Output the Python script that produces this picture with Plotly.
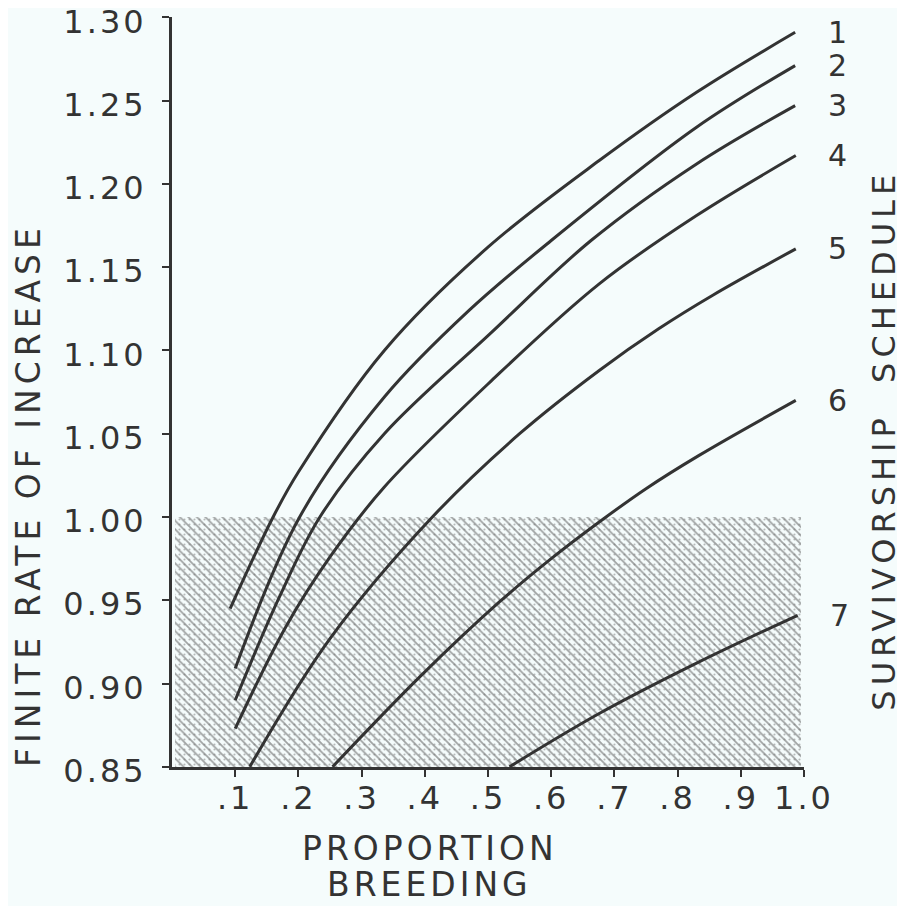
import plotly.graph_objects as go

# ---- data ----
x_ticks = [0.1, 0.2, 0.3, 0.4, 0.5, 0.6, 0.7, 0.8, 0.9, 1.0]
x_ticktext = [".1", ".2", ".3", ".4", ".5", ".6", ".7", ".8", ".9", "1.0"]
y_ticks = [0.85, 0.90, 0.95, 1.00, 1.05, 1.10, 1.15, 1.20, 1.25, 1.30]
y_ticktext = ["0.85", "0.90", "0.95", "1.00", "1.05", "1.10", "1.15", "1.20", "1.25", "1.30"]

curve_labels = ["1", "2", "3", "4", "5", "6", "7"]

s1_x = [0.092, 0.16, 0.20, 0.336, 0.50, 0.676, 0.83, 0.986]
s1_y = [0.945, 1.000, 1.027, 1.100, 1.162, 1.214, 1.255, 1.291]

s2_x = [0.10, 0.202, 0.336, 0.47, 0.60, 0.83, 0.986]
s2_y = [0.909, 1.000, 1.072, 1.124, 1.166, 1.234, 1.271]

s3_x = [0.10, 0.17, 0.234, 0.336, 0.506, 0.663, 0.83, 0.986]
s3_y = [0.890, 0.952, 1.000, 1.050, 1.111, 1.166, 1.212, 1.247]

s4_x = [0.10, 0.18, 0.25, 0.336, 0.506, 0.676, 0.83, 0.987]
s4_y = [0.873, 0.934, 0.976, 1.018, 1.082, 1.140, 1.181, 1.217]

s5_x = [0.123, 0.25, 0.412, 0.55, 0.676, 0.77, 0.855, 0.987]
s5_y = [0.850, 0.927, 1.000, 1.050, 1.088, 1.113, 1.133, 1.161]

s6_x = [0.254, 0.392, 0.518, 0.60, 0.676, 0.75, 0.834, 0.987]
s6_y = [0.850, 0.904, 0.949, 0.975, 0.997, 1.017, 1.037, 1.070]

s7_x = [0.534, 0.676, 0.834, 0.990]
s7_y = [0.850, 0.882, 0.913, 0.941]

series_x = [s1_x, s2_x, s3_x, s4_x, s5_x, s6_x, s7_x]
series_y = [s1_y, s2_y, s3_y, s4_y, s5_y, s6_y, s7_y]

# shaded region: rate below replacement (1.00)
shade_top = 1.00
shade_floor = 0.85
shade_x0 = 0.005
shade_x1 = 0.995

# ---- styling ----
BG = "#f5fcfc"
INK = "#333333"
FONT = "DejaVu Sans"


def spaced(t, px):
    return '<span style="letter-spacing:%dpx">%s</span>' % (px, t)


fig = go.Figure()

shade_center = (shade_x0 + shade_x1) / 2
shade_width = shade_x1 - shade_x0
fig.add_trace(go.Bar(
    x=[shade_center], y=[shade_top - shade_floor], base=[shade_floor],
    width=[shade_width],
    marker=dict(color=BG, line=dict(width=0),
                pattern=dict(shape="\\", fgcolor="#4a4a4a", bgcolor=BG,
                             size=6, solidity=0.3)),
    hoverinfo="skip",
))
fig.add_trace(go.Bar(
    x=[shade_center], y=[shade_top - shade_floor], base=[shade_floor],
    width=[shade_width],
    marker=dict(color="rgba(0,0,0,0)", line=dict(width=0),
                pattern=dict(shape=".", fgcolor="#777777",
                             bgcolor="rgba(0,0,0,0)", size=5, solidity=0.15)),
    hoverinfo="skip",
))

for sx, sy, lab in zip(series_x, series_y, curve_labels):
    fig.add_trace(go.Scatter(
        x=sx, y=sy, mode="lines",
        line=dict(color=INK, width=3, shape="spline", smoothing=1.0),
        name=lab, hoverinfo="skip",
    ))
    fig.add_annotation(
        x=sx[-1], y=sy[-1], xref="x", yref="y", text=lab, showarrow=False,
        xshift=42, font=dict(family=FONT, size=30, color=INK),
    )

axis_font = dict(family=FONT, size=32, color=INK)

# the page body adds an 8px offset, so the figure is 8px smaller and margins shifted
fig.update_layout(
    width=897, height=898,
    margin=dict(l=164, r=101, t=9, b=139, autoexpand=False),
    paper_bgcolor=BG, plot_bgcolor=BG,
    showlegend=False, barmode="overlay", bargap=0,
    xaxis=dict(
        range=[0, 1.0], showgrid=False, zeroline=False,
        showline=True, linecolor=INK, linewidth=3,
        ticks="outside", ticklen=7, tickwidth=2, tickcolor=INK,
        tickvals=x_ticks, ticktext=[spaced(t, 3) for t in x_ticktext],
        tickfont=axis_font, ticklabelstandoff=-6, automargin=False,
    ),
    yaxis=dict(
        range=[0.8499, 1.3002], showgrid=False, zeroline=False,
        showline=True, linecolor=INK, linewidth=3,
        ticks="outside", ticklen=7, tickwidth=2, tickcolor=INK,
        tickvals=y_ticks, ticktext=[spaced(t, 3) for t in y_ticktext],
        tickfont=axis_font, ticklabelstandoff=9, ticklabelshift=4,
        ticklabeloverflow="allow", automargin=False,
    ),
)

title_font = dict(family=FONT, size=33, color=INK)
fig.add_annotation(
    x=-0.226, y=0.363, xref="paper", yref="paper",
    xanchor="center", yanchor="middle",
    text=spaced("FINITE RATE OF INCREASE", 5), textangle=-90, showarrow=False,
    font=title_font,
)
fig.add_annotation(
    x=1.126, y=0.436, xref="paper", yref="paper",
    xanchor="center", yanchor="middle",
    text=spaced("SURVIVORSHIP  SCHEDULE", 5), textangle=-90, showarrow=False,
    font=dict(family=FONT, size=32, color=INK),
)
fig.add_annotation(
    x=0.408, y=-0.108, xref="paper", yref="paper",
    xanchor="center", yanchor="middle",
    text=spaced("PROPORTION", 4), showarrow=False, font=title_font,
)
fig.add_annotation(
    x=0.408, y=-0.157, xref="paper", yref="paper",
    xanchor="center", yanchor="middle",
    text=spaced("BREEDING", 4), showarrow=False, font=title_font,
)

fig.write_html("out.html")
